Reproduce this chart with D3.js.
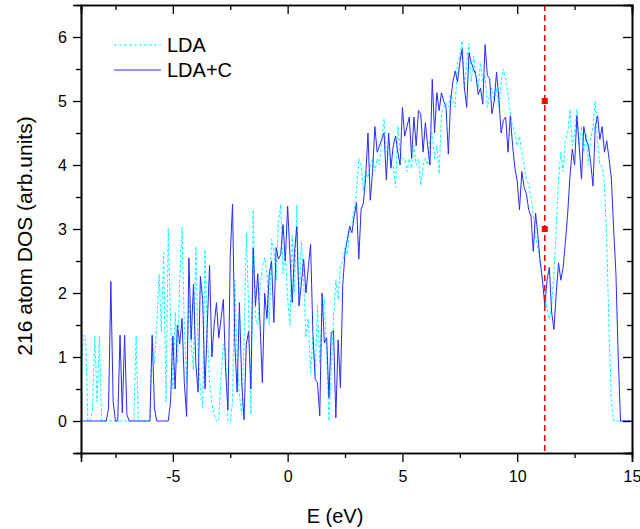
<!DOCTYPE html>
<html lang="en">
<head>
  <meta charset="UTF-8">
  <title>216 atom DOS</title>
  <style>
    body { margin: 0; background: #fff; }
    svg { display: block; font-family: Arial, "Liberation Sans", sans-serif; }
    .tick-label { font-size: 16px; fill: #000; }
    .axis-title { font-size: 20px; fill: #000; }
    .legend text { font-size: 20px; fill: #000; }
  </style>
</head>
<body>
  <svg width="640" height="529"></svg>

  <script src="https://cdnjs.cloudflare.com/ajax/libs/d3/7.8.5/d3.min.js"></script>
  <script>
    // energy grid: -9 .. 15 eV, 0.1 eV step (one row = 1 eV)
    const eStart = -9, eStep = 0.1;

    // LDA+C (solid blue)
    const ldaC = [
      0, 0, 0, 0, 0, 0, 0, 0, 0, 0,
      0, 0, 0.2, 2.18, 0.3, 0, 0, 1.34, 0.13, 1.34,
      0.1, 0, 0, 0, 0, 0, 0, 0, 0, 0,
      0, 1.34, 0.2, 0, 0, 0, 0, 0, 0, 0.3,
      1.33, 0.5, 1.5, 1.2, 1.6, 0.6, 0.07, 2.55, 1.27, 2.14,
      0.9, 0.45, 2.26, 1.9, 0.5, 1.5, 2.43, 1.0, 1.5, 1.85,
      1.3, 1.6, 1.9, 0.8, 0.17, 2.58, 3.39, 1.22, 0.45, 1.85,
      0.6, 0.02, 1.2, 1.4, 0.5, 2.7, 1.8, 2.3, 1.5, 0.6,
      2.0, 1.6, 2.3, 2.5, 1.54, 2.71, 2.53, 2.6, 3.07, 2.5,
      3.36, 2.6, 1.85, 2.63, 3.04, 1.8, 2.16, 2.53, 2.0, 2.4,
      2.76, 1.38, 0.65, 0.6, 0.08, 2.0, 1.22, 1.3, 0.36, 1.38,
      1.41, 0.05, 1.27, 0.52, 2.11, 2.63, 2.84, 3.04, 2.94, 3.2,
      3.41, 2.53, 3.31, 3.4, 3.8, 4.5, 3.45, 3.9, 4.6, 4.2,
      4.3, 4.4, 4.5, 3.77, 4.5, 3.95, 4.3, 4.45, 4.2, 4.0,
      4.9, 4.45, 4.6, 4.75, 4.1, 4.75, 4.3, 4.85, 4.8, 4.2,
      4.66, 4.3, 4.0, 5.34, 4.5, 5.13, 4.85, 5.13, 5.0, 4.9,
      4.17, 5.0, 5.3, 5.47, 5.3, 5.6, 5.81, 5.2, 4.9, 5.75,
      5.6, 5.5, 5.4, 5.1, 5.2, 4.95, 5.88, 5.4, 5.35, 4.8,
      5.0, 5.45, 5.05, 4.5, 4.7, 4.75, 4.2, 4.77, 4.3, 3.95,
      3.75, 3.3, 3.9, 3.65, 3.55, 3.3, 3.2, 2.65, 3.25, 2.9,
      2.5, 2.2, 1.8, 2.2, 2.4, 1.7, 1.43, 2.0, 2.47, 2.2,
      2.4, 2.8, 3.25, 3.83, 4.25, 4.0, 4.77, 4.3, 3.78, 4.6,
      4.4, 4.3, 4.04, 3.67, 4.6, 4.77, 4.4, 4.6, 4.2, 4.38,
      4.1, 3.8, 3.0, 2.3, 1.0, 0, 0, 0, 0, 0,
      0
    ];

    // LDA (dashed cyan)
    const lda = [
      0.7, 1.33, 1.33, 0, 0, 0.2, 1.33, 0.3, 1.33, 0,
      0, 0, 0, 0, 0, 0, 0, 0, 0, 0,
      0, 0, 0, 0, 1.33, 0, 0, 0, 0, 0,
      0, 1.3, 0.9, 1.5, 2.3, 1.4, 2.63, 0.3, 3.02, 1.6,
      0.5, 1.7, 0.9, 2.2, 3.03, 1.5, 0.6, 1.9, 1.2, 0.8,
      2.73, 1.1, 0.5, 0.2, 2.68, 1.4, 0.6, 0.3, 0.1, 0,
      0, 0.7, 1.2, 1.1, 0, 0, 0.3, 2.2, 1.0, 0.4,
      0.1, 1.2, 2.94, 1.8, 0.1, 3.3, 1.6, 1.5, 2.1, 2.4,
      2.55, 2.3, 1.5, 2.84, 2.7, 2.2, 3.1, 3.38, 2.3, 2.6,
      1.9, 1.5, 2.9, 2.0, 3.38, 1.8, 2.8, 2.2, 1.3, 1.6,
      0.76, 1.3, 0.7, 1.8, 0.9, 1.7, 1.9, 1.07, 0, 0.8,
      1.6, 2.2, 1.9, 2.42, 2.5, 2.7, 2.6, 3.0, 3.1, 3.3,
      3.6, 4.1, 4.0, 3.6, 3.9, 3.8, 4.0, 4.1, 3.9, 4.1,
      4.0, 4.4, 4.72, 4.2, 4.2, 4.0, 4.0, 3.65, 4.61, 4.2,
      4.1, 4.1, 3.9, 4.1, 3.95, 4.3, 4.0, 4.1, 3.68, 4.0,
      4.1, 4.0, 4.4, 4.5, 4.1, 4.3, 3.86, 4.8, 4.9, 4.97,
      4.9, 5.1, 5.0, 4.9, 5.6, 5.7, 5.94, 5.2, 5.6, 5.9,
      5.3, 5.7, 5.4, 5.2, 5.6, 5.3, 5.4, 4.9, 5.1, 5.2,
      5.0, 5.2, 4.9, 5.3, 5.5, 5.34, 5.1, 4.8, 4.6, 4.5,
      4.3, 4.45, 4.2, 4.0, 3.77, 3.7, 3.5, 3.2, 2.9, 2.7,
      2.47, 2.2, 2.0, 1.75, 1.59, 1.8, 2.3, 3.0, 3.77, 4.2,
      3.9, 4.4, 4.5, 4.87, 4.3, 4.5, 4.87, 4.3, 4.6, 4.2,
      4.5, 4.0, 4.4, 4.6, 5.0, 4.4, 4.0, 3.98, 3.7, 2.8,
      1.4, 0.3, 0, 0, 0, 0, 0, 0, 0, 0,
      0
    ];

    const fermiE = 11.2;
    const markerV = [5, 3];

    const xTicks = [-5, 0, 5, 10, 15];
    const xMinor = [-7.5, -2.5, 2.5, 7.5, 12.5];
    const yTicks = [0, 1, 2, 3, 4, 5, 6];
    const yMinor = [-0.5, 0.5, 1.5, 2.5, 3.5, 4.5, 5.5];

    const svg = d3.select("svg");
    const mLeft = 81, mRight = 632, mTop = 5, mBottom = 453;

    const x = d3.scaleLinear().domain([-9, 15]).range([mLeft, mRight]);
    const y = d3.scaleLinear().domain([-0.5, 6.5]).range([mBottom, mTop]);

    svg.append("clipPath").attr("id", "plot")
      .append("rect")
      .attr("x", mLeft).attr("y", mTop)
      .attr("width", mRight - mLeft).attr("height", mBottom - mTop);

    const line = d3.line()
      .x((d, i) => x(eStart + i * eStep))
      .y(d => y(d));

    const plot = svg.append("g").attr("clip-path", "url(#plot)");

    plot.append("path")
      .datum(lda)
      .attr("fill", "none")
      .attr("stroke", "#00ffff")
      .attr("stroke-width", 1)
      .attr("stroke-dasharray", "3,2")
      .attr("d", line);

    plot.append("path")
      .datum(ldaC)
      .attr("fill", "none")
      .attr("stroke", "#2a2aff")
      .attr("stroke-width", 1)
      .attr("d", line);

    // Fermi level
    plot.append("line")
      .attr("x1", x(fermiE)).attr("x2", x(fermiE))
      .attr("y1", mTop).attr("y2", mBottom)
      .attr("stroke", "#ff0000")
      .attr("stroke-width", 1.5)
      .attr("stroke-dasharray", "6,4");

    plot.selectAll("rect.marker")
      .data(markerV)
      .enter().append("rect")
      .attr("class", "marker")
      .attr("x", x(fermiE) - 3)
      .attr("y", d => y(d) - 3)
      .attr("width", 6).attr("height", 6)
      .attr("fill", "#ff0000");

    const plain = d => String(d);

    // axes: bottom / left with outward ticks
    const xAxis = svg.append("g").attr("transform", `translate(0,${mBottom})`)
      .call(d3.axisBottom(x).tickValues(xTicks).tickSize(9).tickPadding(9).tickFormat(plain));
    xAxis.attr("font-size", null).attr("font-family", null);
    xAxis.selectAll("text").attr("class", "tick-label");
    svg.append("g").attr("transform", `translate(0,${mBottom})`)
      .call(d3.axisBottom(x).tickValues(xMinor).tickSize(5).tickFormat(""));

    const yAxis = svg.append("g").attr("transform", `translate(${mLeft},0)`)
      .call(d3.axisLeft(y).tickValues(yTicks).tickSize(8).tickPadding(6).tickFormat(plain));
    yAxis.attr("font-size", null).attr("font-family", null);
    yAxis.selectAll("text").attr("class", "tick-label");
    svg.append("g").attr("transform", `translate(${mLeft},0)`)
      .call(d3.axisLeft(y).tickValues(yMinor).tickSize(5).tickFormat(""));

    // mirrored top / right axes with inward ticks
    svg.append("g").attr("transform", `translate(0,${mTop})`)
      .call(d3.axisBottom(x).tickValues(xTicks).tickSize(9).tickFormat(""));
    svg.append("g").attr("transform", `translate(0,${mTop})`)
      .call(d3.axisBottom(x).tickValues(xMinor).tickSize(5).tickFormat(""));
    svg.append("g").attr("transform", `translate(${mRight},0)`)
      .call(d3.axisLeft(y).tickValues(yTicks).tickSize(9).tickFormat(""));
    svg.append("g").attr("transform", `translate(${mRight},0)`)
      .call(d3.axisLeft(y).tickValues(yMinor).tickSize(5).tickFormat(""));

    svg.selectAll(".domain").attr("stroke", "#000").attr("stroke-width", 1.6);
    svg.selectAll(".tick line").attr("stroke", "#000").attr("stroke-width", 1.3);

    // axis titles
    svg.append("text").attr("class", "axis-title")
      .attr("x", 335).attr("y", 523)
      .attr("text-anchor", "middle")
      .text("E (eV)");

    svg.append("text").attr("class", "axis-title")
      .attr("transform", "translate(32,236) rotate(-90)")
      .style("font-size", "21px")
      .attr("text-anchor", "middle")
      .text("216 atom DOS (arb.units)");

    // legend
    const legend = svg.append("g").attr("class", "legend");
    const items = [
      { name: "LDA", color: "#00ffff", dash: "3,2", y: 45 },
      { name: "LDA+C", color: "#2a2aff", dash: null, y: 70 }
    ];
    items.forEach(it => {
      legend.append("line")
        .attr("x1", 114).attr("x2", 161)
        .attr("y1", it.y).attr("y2", it.y)
        .attr("stroke", it.color)
        .attr("stroke-width", 1)
        .attr("stroke-dasharray", it.dash);
      legend.append("text")
        .attr("x", 167).attr("y", it.y + 7)
        .text(it.name);
    });
  </script>
</body>
</html>
